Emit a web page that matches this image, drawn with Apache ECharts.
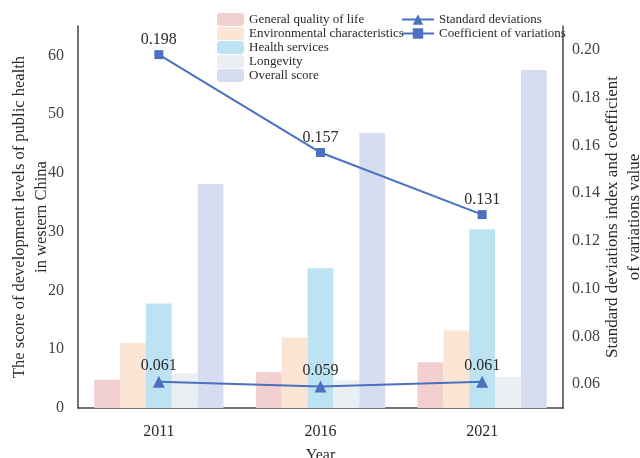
<!DOCTYPE html>
<html><head><meta charset="utf-8">
<script src="https://cdn.jsdelivr.net/npm/echarts@6/dist/echarts.min.js"></script>
<style>html,body{margin:0;padding:0;background:#fff}#c{width:640px;height:458px}</style>
</head><body><div id="c"></div>
<script>
const years = ['2011', '2016', '2021'];
const generalQuality = [4.8, 6.1, 7.8];
const environmental = [11.1, 12.0, 13.2];
const healthServices = [17.8, 23.8, 30.4];
const longevity = [5.9, 4.7, 5.3];
const overallScore = [38.1, 46.8, 57.5];
const stdDeviations = [0.061, 0.059, 0.061];
const coefVariations = [0.198, 0.157, 0.131];
const leftTicks = [0, 10, 20, 30, 40, 50, 60];
const rightTicks = [0.06, 0.08, 0.10, 0.12, 0.14, 0.16, 0.18, 0.20];

const F = 'Liberation Serif';
const txt = '#2a2a2a';
const chart = echarts.init(document.getElementById('c'));
const barNames = ['General quality of life', 'Environmental characteristics', 'Health services', 'Longevity', 'Overall score'];
const barData = [generalQuality, environmental, healthServices, longevity, overallScore];
const barColors = ['#f3d0d0', '#fbe6d6', '#bde3f3', '#eaeff4', '#d6ddf0'];
const lineColor = '#4a70c0';

const series = barNames.map((n, i) => ({
  name: n, type: 'bar', yAxisIndex: 0, data: barData[i],
  itemStyle: { color: barColors[i] }, barGap: '0%', barCategoryGap: '20%'
}));
series.push({
  name: 'Standard deviations', type: 'line', yAxisIndex: 1, data: stdDeviations,
  symbol: 'triangle', symbolSize: 12, lineStyle: { color: lineColor, width: 2 },
  itemStyle: { color: lineColor },
  label: { show: true, position: 'top', distance: 2, fontFamily: F, fontSize: 16, color: txt,
    formatter: p => p.value.toFixed(3) }
});
series.push({
  name: 'Coefficient of variations', type: 'line', yAxisIndex: 1, data: coefVariations,
  symbol: 'rect', symbolSize: 9, lineStyle: { color: lineColor, width: 2 },
  itemStyle: { color: lineColor },
  label: { show: true, position: 'top', distance: 2, fontFamily: F, fontSize: 16, color: txt,
    formatter: p => p.value.toFixed(3) }
});

chart.setOption({
  animation: false,
  grid: { left: 78, right: 77, top: 26, bottom: 50, containLabel: false, outerBoundsMode: 'none' },
  legend: [
    { data: barNames, orient: 'vertical', left: 212, top: 8, itemWidth: 27, itemHeight: 13, itemGap: 1,
      textStyle: { fontFamily: F, fontSize: 13, color: txt, lineHeight: 13 } },
    { data: ['Standard deviations', 'Coefficient of variations'], orient: 'vertical', left: 396, top: 8,
      itemWidth: 32, itemHeight: 13, itemGap: 1,
      textStyle: { fontFamily: F, fontSize: 13, color: txt, lineHeight: 13 } }
  ],
  xAxis: {
    type: 'category', data: years, name: 'Year', nameLocation: 'middle', nameGap: 40, nameMoveOverlap: false,
    nameTextStyle: { fontFamily: F, fontSize: 16, color: txt },
    axisLine: { lineStyle: { color: '#444', width: 1.5 } }, axisTick: { show: false },
    axisLabel: { fontFamily: F, fontSize: 16, color: txt, margin: 16 }
  },
  yAxis: [
    { type: 'value', min: 0, max: 65, interval: 10,
      name: 'The score of development levels of public health\nin western China',
      nameLocation: 'middle', nameGap: 25, nameMoveOverlap: false,
      nameTextStyle: { fontFamily: F, fontSize: 16.5, color: txt, lineHeight: 22 },
      axisLine: { show: true, lineStyle: { color: '#444', width: 1.5 } }, axisTick: { show: false },
      splitLine: { show: false },
      axisLabel: { fontFamily: F, fontSize: 16, color: '#444', margin: 14, customValues: leftTicks } },
    { type: 'value', min: 0.05, max: 0.21, position: 'right',
      name: 'Standard deviations index and coefficient\nof variations value',
      nameLocation: 'middle', nameGap: 39, nameMoveOverlap: false,
      nameTextStyle: { fontFamily: F, fontSize: 17, color: txt, lineHeight: 22 },
      axisLine: { show: true, lineStyle: { color: '#444', width: 1.5 } }, axisTick: { show: false },
      splitLine: { show: false },
      axisLabel: { fontFamily: F, fontSize: 16, color: '#444', margin: 9, customValues: rightTicks,
        formatter: v => v.toFixed(2) } }
  ],
  series: series
});
</script></body></html>
